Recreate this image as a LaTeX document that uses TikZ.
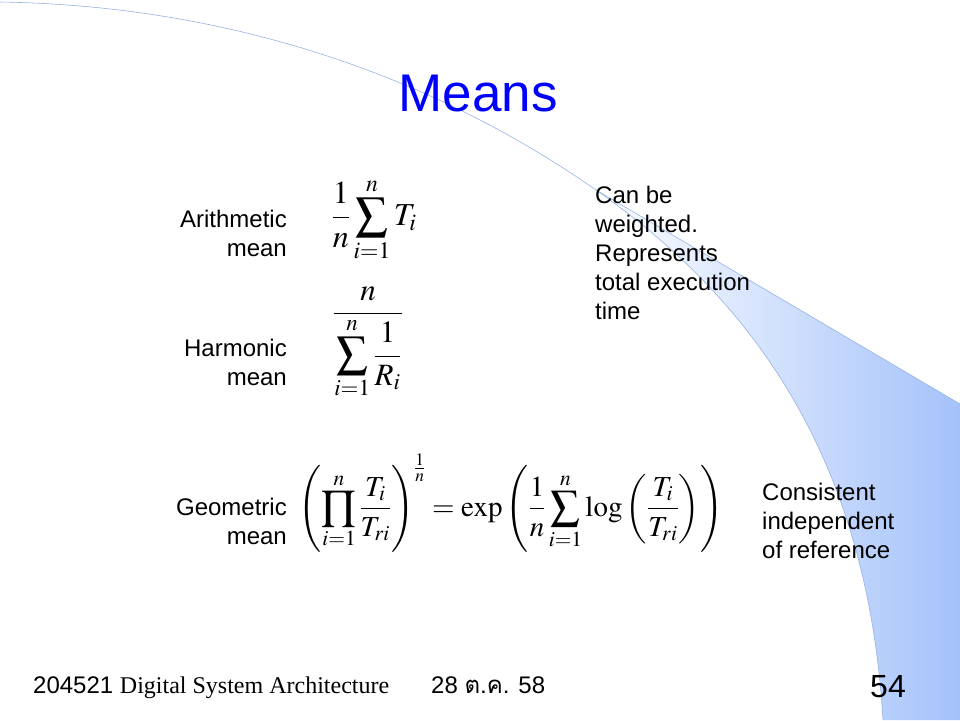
\documentclass[tikz,border=0pt]{standalone}
\usepackage{mathptmx}
\usepackage[no-math]{fontspec}
\setmainfont{Liberation Sans}
\newfontfamily\timesfont{Liberation Serif}
\newfontfamily\thaifont[Script=Thai]{Loma}
\usepackage{amsmath}
\definecolor{swooshblue}{RGB}{164,194,250}
\definecolor{swooshline}{RGB}{150,178,228}
\definecolor{titleblue}{RGB}{0,0,255}

\begin{document}
\begin{tikzpicture}[x=1pt,y=-1pt,
    txt/.style={inner sep=0pt, font=\fontsize{24}{29}\selectfont},
    formula/.style={inner sep=0pt, font=\fontsize{32}{38}\selectfont}]
    \useasboundingbox (0,0) rectangle (960,720);
    % swoosh
    \shade[left color=white, right color=swooshblue] (596,190) -- (960,404) -- (960,720) -- (883,720)
        .. controls (867,450) and (746,295) .. (596,190) -- cycle;
    \draw[swooshline, line width=0.6pt] (0,2) .. controls (250,6) and (450,88) .. (596,190)
        .. controls (746,295) and (867,450) .. (883,720);
    \draw[swooshline, line width=0.6pt] (596,190) -- (960,404);
    % title
    \node[inner sep=0pt, font=\fontsize{53}{64}\selectfont, text=titleblue] (title) at (478,94) {Means};
    % labels
    \node[txt, anchor=east, align=right] (arith) at (287,233) {Arithmetic\\mean};
    \node[txt, anchor=east, align=right] (harm) at (287,362) {Harmonic\\mean};
    \node[txt, anchor=east, align=right] (geom) at (287,521) {Geometric\\mean};
    % formulas
    \node[formula] (amean) at (374,220) {$\displaystyle \frac{1}{n}\sum_{i=1}^{n} T_i$};
    \node[formula, font=\fontsize{31}{37}\selectfont] (hmean) at (368,343)
        {$\displaystyle \frac{n}{\displaystyle\sum_{i=1}^{n}\frac{1}{R_i}}$};
    \node[formula, font=\fontsize{29}{35}\selectfont] (gmean) at (511,503)
        {$\displaystyle \left(\prod_{i=1}^{n}\frac{T_i}{T_{ri}}\right)^{\frac{1}{n}}
        = \exp\left(\frac{1}{n}\sum_{i=1}^{n}\log\left(\frac{T_i}{T_{ri}}\right)\right)$};
    % remarks
    \node[txt, anchor=west, align=left] (anote) at (595,253) {Can be\\weighted.\\Represents\\total execution\\time};
    \node[txt, anchor=west, align=left] (gnote) at (762,521) {Consistent\\independent\\of reference};
    % footer
    \node[inner sep=0pt, anchor=base west, font=\fontsize{24}{29}\selectfont] (course) at (33,693)
        {204521 {\timesfont Digital System Architecture}};
    \node[inner sep=0pt, anchor=base west, font=\fontsize{24}{29}\selectfont] (date) at (431,693)
        {28 {\thaifont ต.ค.} 58};
    \node[inner sep=0pt, anchor=base east, font=\fontsize{32}{38}\selectfont] (page) at (906,697) {54};
\end{tikzpicture}
\end{document}
